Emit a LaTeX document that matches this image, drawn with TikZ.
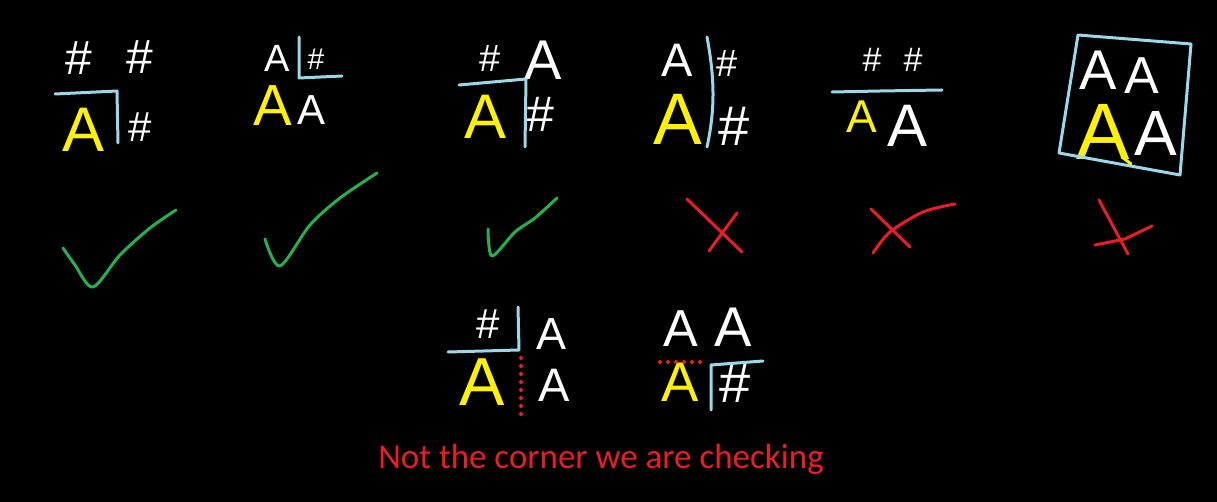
\documentclass[tikz,border=0pt]{standalone}
\usepackage{fontspec}
\setmainfont{Carlito}
\newfontfamily\handfont{Liberation Sans}
\usetikzlibrary{positioning}
\definecolor{paintblue}{HTML}{99D9EA}
\definecolor{paintyellow}{HTML}{FFF200}
\definecolor{paintgreen}{HTML}{22B14C}
\definecolor{paintred}{HTML}{ED1C24}

\begin{document}
\begin{tikzpicture}[
  x=1pt, y=-1pt,
  glyph/.style={inner sep=0pt, font=\handfont\fontsize{#1}{#1}\selectfont},
  wht/.style={glyph=#1, text=white},
  ylw/.style={glyph=#1, text=paintyellow},
  pen/.style={line width=3pt, line cap=round, line join=round},
  blueline/.style={pen, paintblue},
  ylwline/.style={pen, paintyellow},
  tick/.style={pen, paintgreen},
  cross/.style={pen, paintred},
  dots/.style={paintred, line width=4pt, line cap=round, dash pattern=on 0pt off 8pt}
]
\fill[black] (0,0) rectangle (1217,502);
\useasboundingbox (0,0) rectangle (1217,502);

% Top row
\node[wht=48] (h1a) at (79,58) {\#};
\node[wht=48] (h1b) at (140,57) {\#};
\node[ylw=63] (a1) at (84,130) {A};
\node[wht=42] (h1c) at (140,127) {\#};
\draw[blueline] (55,94) -- (117,91) -- (118,143);

\node[wht=38] (a2a) at (277,58) {A};
\node[wht=30] (h2) at (316,59) {\#};
\node[ylw=58] (a2b) at (273,106) {A};
\node[wht=42] (a2c) at (312,110) {A};
\draw[blueline] (299,37) -- (299,78) -- (342,76);

\node[wht=38] (h3a) at (490,59) {\#};
\node[wht=56] (a3a) at (543,60) {A};
\node[ylw=63] (a3b) at (486,117) {A};
\node[wht=50] (h3b) at (540,114) {\#};
\draw[blueline] (459,85) -- (526,79) -- (525,147);

\node[wht=47] (a4a) at (677,60) {A};
\node[wht=38] (h4a) at (727,64) {\#};
\node[ylw=73] (a4b) at (678,119) {A};
\node[wht=56] (h4b) at (734,126) {\#};
\draw[blueline] (707,37) .. controls (715,80) and (715,110) .. (707,147);

\node[wht=34] (h5a) at (872,60) {\#};
\node[wht=34] (h5b) at (913,60) {\#};
\node[ylw=46] (a5a) at (862,117) {A};
\node[wht=60] (a5b) at (907,126) {A};
\draw[blueline] (832,92) -- (880,91) -- (942,90);

\node[wht=56] (a6a) at (1098,70) {A};
\node[wht=52] (a6b) at (1142,76) {A};
\node[ylw=80] (a6c) at (1103,132) {A};
\node[wht=64] (a6d) at (1156,133) {A};
\draw[blueline] (1078,35) -- (1191,44) -- (1180,175) -- (1059,153) -- cycle;
\draw[ylwline] (1122,157) -- (1131,164);

% Ticks and crosses
\draw[tick] plot[smooth] coordinates {(63,248) (75,265) (93,287) (120,255) (150,228) (176,210)};
\draw[tick] plot[smooth] coordinates {(265,239) (280,266) (310,225) (340,198) (377,173)};
\draw[tick] plot[smooth] coordinates {(488,229) (492,256) (515,232) (535,218) (557,198)};
\draw[cross] (687,199) -- (742,252);
\draw[cross] (737,213) -- (709,251);
\draw[cross] (871,209) -- (910,247);
\draw[cross] plot[smooth] coordinates {(873,253) (890,232) (923,212) (955,204)};
\draw[cross] (1099,200) -- (1128,254);
\draw[cross] (1095,245) -- (1125,239) -- (1152,226);

% Bottom row
\node[wht=42] (h7) at (488,324) {\#};
\node[wht=45] (a7a) at (551,334) {A};
\node[ylw=68] (a7b) at (482,382) {A};
\node[wht=47] (a7c) at (554,385) {A};
\draw[blueline] (518,307) -- (519,350) -- (448,352);
\draw[dots] (521,358) -- (521,417);

\node[wht=52] (a8a) at (681,329) {A};
\node[wht=56] (a8b) at (733,327) {A};
\node[ylw=56] (a8c) at (680,382) {A};
\node[wht=56] (h8) at (735,383) {\#};
\draw[dots] (660,362) -- (707,362);
\draw[blueline] (711,410) -- (711,365) -- (763,361);

% Note
\node[text=paintred, font=\fontsize{35}{42}\selectfont, inner sep=0pt, anchor=base] (note) at (601,468) {Not the corner we are checking};
\end{tikzpicture}
\end{document}
